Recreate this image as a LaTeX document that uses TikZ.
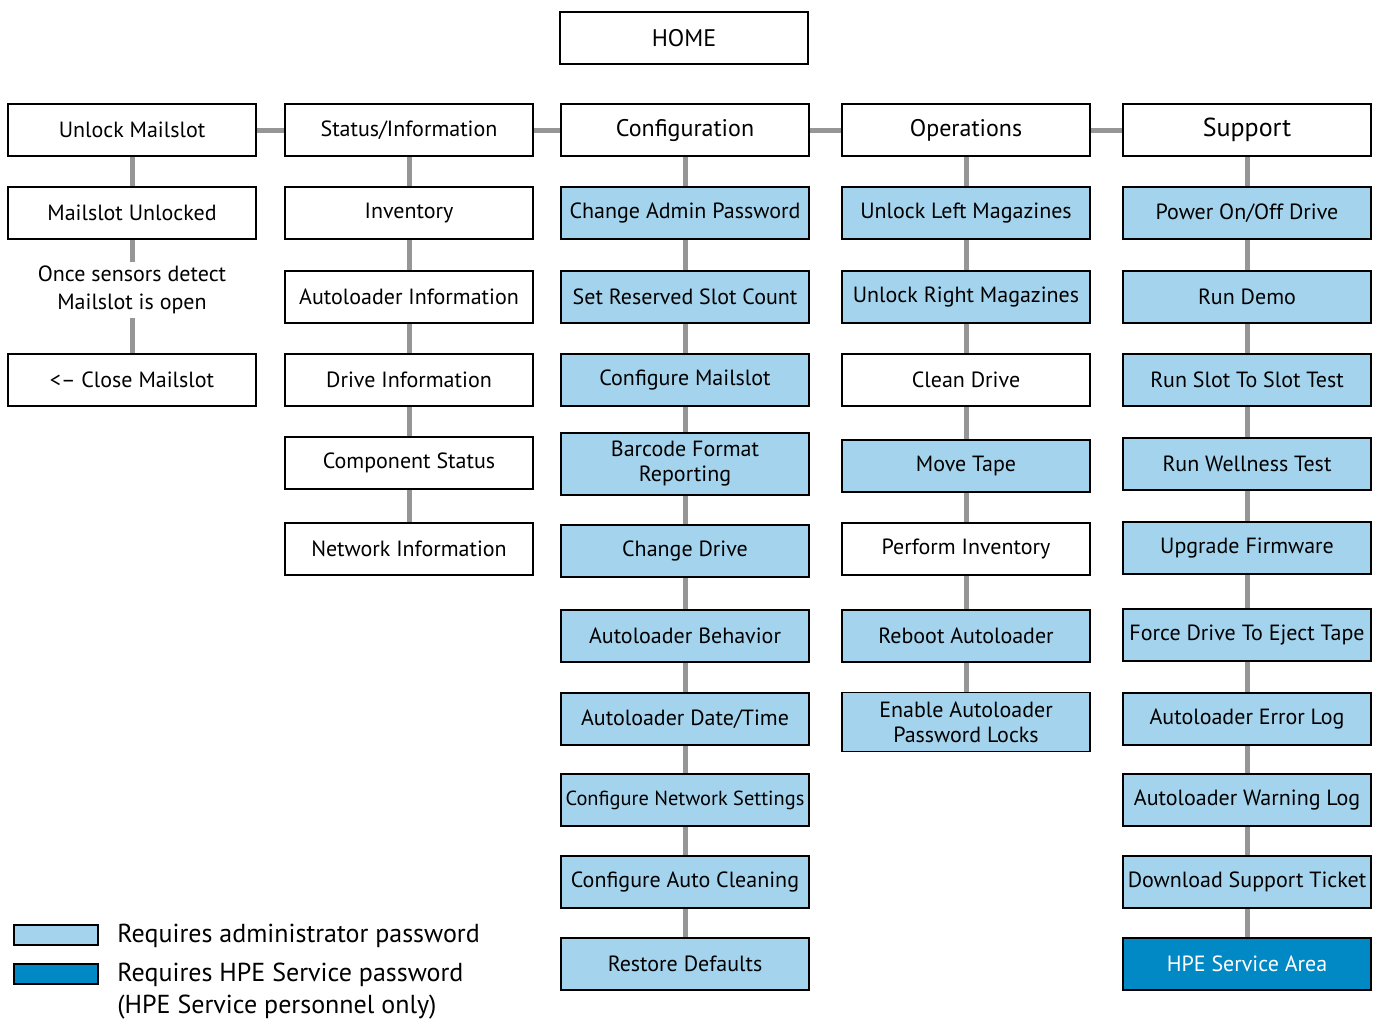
\documentclass[tikz,border=0pt]{standalone}
\usepackage{fontspec}
\setmainfont{PT Sans}
\usetikzlibrary{positioning}
\definecolor{adminblue}{RGB}{164,212,237}
\definecolor{serviceblue}{RGB}{0,137,196}
\definecolor{linkgray}{RGB}{150,150,150}
\begin{document}
\begin{tikzpicture}[x=0.5pt,y=-0.5pt,
menu/.style={draw,line width=0.8pt,fill=white,minimum width=124pt,minimum height=26pt,
  inner sep=1pt,align=center,font=\fontsize{11}{11}\selectfont},
admin/.style={menu,fill=adminblue},
service/.style={menu,fill=serviceblue,text=white},
link/.style={linkgray,line width=2.5pt},
legendbox/.style={draw,line width=0.8pt,minimum width=42pt,minimum height=10pt,inner sep=0pt},
legendtext/.style={anchor=west,inner sep=0pt,align=left,font=\fontsize{13}{16}\selectfont}]
\useasboundingbox (0,0) rectangle (1385,1022);

% home and main menus
\node[menu,font=\fontsize{12}{12}\selectfont] (home) at (684,38) {HOME};
\node[menu] (unlock) at (132,130) {Unlock Mailslot};
\node[menu] (status) at (409,130) {Status/Information};
\node[menu,font=\fontsize{12}{12}\selectfont] (config) at (685,130) {Configuration};
\node[menu,font=\fontsize{12}{12}\selectfont] (oper) at (966,130) {Operations};
\node[menu,font=\fontsize{13}{12}\selectfont] (support) at (1247,130) {Support};

% unlock mailslot
\node[menu] (unlock1) at (132,213) {Mailslot Unlocked};
\node[align=center,inner sep=2pt,font=\fontsize{11}{14}\selectfont] (unlock2) at (132,290)
  {Once sensors detect\\Mailslot is open};
\node[menu] (unlock3) at (132,380) {<-- Close Mailslot};

% status/information
\node[menu] (status1) at (409,213) {Inventory};
\node[menu] (status2) at (409,297) {Autoloader Information};
\node[menu] (status3) at (409,380) {Drive Information};
\node[menu] (status4) at (409,463) {Component Status};
\node[menu] (status5) at (409,549) {Network Information};

% configuration
\node[admin] (config1) at (685,213) {Change Admin Password};
\node[admin] (config2) at (685,297) {Set Reserved Slot Count};
\node[admin] (config3) at (685,380) {Configure Mailslot};
\node[admin,minimum height=31pt,font=\fontsize{11}{12.5}\selectfont] (config4) at (685,464) {Barcode Format\\Reporting};
\node[admin] (config5) at (685,551) {Change Drive};
\node[admin] (config6) at (685,636) {Autoloader Behavior};
\node[admin] (config7) at (685,719) {Autoloader Date/Time};
\node[admin,font=\fontsize{10.2}{11}\selectfont] (config8) at (685,800) {Configure Network Settings};
\node[admin] (config9) at (685,882) {Configure Auto Cleaning};
\node[admin] (config10) at (685,964) {Restore Defaults};

% operations
\node[admin] (oper1) at (966,213) {Unlock Left Magazines};
\node[admin] (oper2) at (966,297) {Unlock Right Magazines};
\node[menu] (oper3) at (966,380) {Clean Drive};
\node[admin] (oper4) at (966,466) {Move Tape};
\node[menu] (oper5) at (966,549) {Perform Inventory};
\node[admin] (oper6) at (966,636) {Reboot Autoloader};
\node[admin,minimum height=29.5pt,font=\fontsize{11}{12.5}\selectfont] (oper7) at (966,722) {Enable Autoloader\\Password Locks};

% support
\node[admin] (support1) at (1247,213) {Power On/Off Drive};
\node[admin] (support2) at (1247,297) {Run Demo};
\node[admin] (support3) at (1247,380) {Run Slot To Slot Test};
\node[admin] (support4) at (1247,464) {Run Wellness Test};
\node[admin] (support5) at (1247,548) {Upgrade Firmware};
\node[admin] (support6) at (1247,635) {Force Drive To Eject Tape};
\node[admin] (support7) at (1247,719) {Autoloader Error Log};
\node[admin] (support8) at (1247,800) {Autoloader Warning Log};
\node[admin] (support9) at (1247,882) {Download Support Ticket};
\node[service] (support10) at (1247,964) {HPE Service Area};

% connectors
\foreach \a/\b in {unlock/status,status/config,config/oper,oper/support}
  \draw[link] (\a.east) -- (\b.west);
\foreach \a/\b in {unlock/unlock1,unlock1/unlock2,unlock2/unlock3}
  \draw[link] (\a.south) -- (\b.north);
\draw[link] (status.south) -- (status1.north);
\foreach \i [count=\j from 2] in {1,...,4}
  \draw[link] (status\i.south) -- (status\j.north);
\draw[link] (config.south) -- (config1.north);
\foreach \i [count=\j from 2] in {1,...,9}
  \draw[link] (config\i.south) -- (config\j.north);
\draw[link] (oper.south) -- (oper1.north);
\foreach \i [count=\j from 2] in {1,...,6}
  \draw[link] (oper\i.south) -- (oper\j.north);
\draw[link] (support.south) -- (support1.north);
\foreach \i [count=\j from 2] in {1,...,9}
  \draw[link] (support\i.south) -- (support\j.north);

% legend
\node[legendbox,fill=adminblue] (adminkey) at (56,935) {};
\node[legendbox,fill=serviceblue] (servicekey) at (56,974) {};
\node[legendtext] (admintext) at (117,936) {Requires administrator password};
\node[legendtext] (servicetext) at (117,991) {Requires HPE Service password\\(HPE Service personnel only)};
\end{tikzpicture}
\end{document}
